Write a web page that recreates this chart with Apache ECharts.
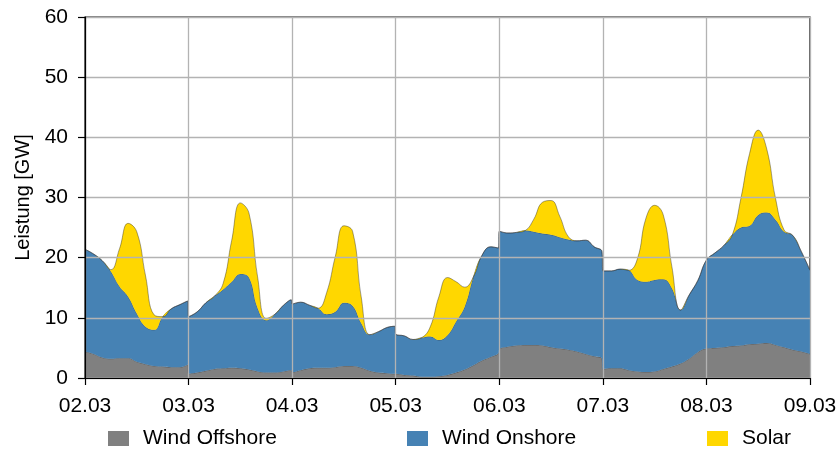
<!DOCTYPE html>
<html>
<head>
<meta charset="utf-8">
<script src="https://cdn.jsdelivr.net/npm/echarts@6/dist/echarts.min.js"></script>
<style>html,body{margin:0;padding:0;background:#fff}#c{width:840px;height:449px}</style>
</head>
<body>
<div id="c"></div>
<script>
// Time in hours since 02.03 00:00
const hours = [0,2,4,6,8,10,12,14,16,18,20,22,23.8,
  24,26,28,30,32,34,36,38,40,42,44,46,47.8,
  48,50,52,54,56,58,60,62,64,66,68,70,71.8,
  72,74,76,78,80,82,84,86,88,90,92,94,95.8,
  96,98,100,102,104,106,108,110,112,114,116,118,119.8,
  120,122,124,126,128,130,132,134,136,138,140,142,144,146,148,150,152,154,156,158,160,162,164,166,168];

const windOffshore = [4.4,4.0,3.4,3.2,3.3,3.3,2.7,2.3,2.0,1.9,1.8,1.8,2.2,
  0.7,0.9,1.2,1.5,1.6,1.7,1.6,1.4,1.1,0.9,0.9,1.1,1.3,
  1.0,1.3,1.6,1.7,1.7,1.8,2.0,2.0,1.7,1.2,0.9,0.8,0.7,
  0.7,0.5,0.4,0.2,0.2,0.3,0.5,0.9,1.4,2.1,2.9,3.5,4.1,
  4.8,5.2,5.4,5.5,5.5,5.4,5.1,4.9,4.7,4.4,4.0,3.6,3.2,
  1.5,1.6,1.6,1.3,1.1,1.0,1.1,1.5,1.9,2.4,3.2,4.3,4.9,5.0,5.1,5.3,5.4,5.6,5.7,5.8,5.5,5.1,4.7,4.4,4.0];

const windOnshore = [17.0,16.6,16.1,14.5,11.9,10.2,8.0,6.2,6.0,8.3,9.7,10.4,10.6,
  9.5,10.1,11.3,12.1,13.1,14.3,15.7,15.3,10.5,8.7,9.7,11.0,11.7,
  11.3,11.3,10.5,9.9,8.9,9.2,10.5,10.0,7.4,6.0,6.8,7.6,7.9,
  6.6,6.5,6.0,6.5,6.7,6.0,6.6,8.5,10.5,14.7,17.5,18.3,17.5,
  19.6,18.9,18.8,19.0,18.8,18.6,18.7,18.5,18.3,18.4,18.9,18.2,17.8,
  16.3,16.2,16.5,16.6,15.2,15.0,15.2,14.9,13.0,8.9,10.6,11.9,14.7,15.8,16.9,18.5,19.6,19.7,21.4,21.7,20.8,19.2,19.0,16.6,13.9];

const solar = [0,0,0,0.3,6.3,12.2,13.6,8.6,2.5,0,0,0,0,
  0,0,0,0,1.0,6.9,11.8,10.7,5.2,0.3,0,0,0,
  0,0,0,0,3.6,9.2,12.8,12.4,4.4,0,0,0,0,
  0,0,0,0,1.6,7.2,9.6,6.6,3.2,0,0,0,0,
  0,0,0,0,2.1,5.2,5.7,3.5,0.5,0,0,0,0,
  0,0,0,0,3.5,10.6,12.4,10.7,3.6,0,0,0,0,0,0,0,4.9,12.0,14.1,10.5,3.6,0.3,0,0,0];

const dayLabels = ['02.03','03.03','04.03','05.03','06.03','07.03','08.03','09.03'];
const yTicks = [0,10,20,30,40,50,60];
const seriesNames = ['Wind Offshore','Wind Onshore','Solar'];
const colors = ['#808080','#4682b4','#ffd700'];

const FONT = '"Liberation Sans", Arial, sans-serif';
const values = [windOffshore, windOnshore, solar];

const chart = echarts.init(document.getElementById('c'), null, {renderer:'canvas'});

// value first so that the stacked dimension is the y value
const series = seriesNames.map((name, i) => ({
  name,
  type: 'line',
  stack: 'total',
  smooth: 0.45,
  symbol: 'none',
  encode: {x: 1, y: 0},
  data: hours.map((h, k) => [values[i][k], h]),
  lineStyle: {width: 0.7, color: 'rgba(40,40,40,0.6)'},
  areaStyle: {color: colors[i], opacity: 1},
  itemStyle: {color: colors[i]},
  z: 2 + i
}));

const legendLefts = [103, 402, 702];
const legends = seriesNames.map((name, i) => ({
  data: [{name, icon: 'rect', itemStyle: {color: colors[i], borderWidth: 0}}],
  left: legendLefts[i],
  top: 423,
  itemWidth: 21,
  itemHeight: 15,
  selectedMode: false,
  textStyle: {fontFamily: FONT, fontSize: 21, color: '#000', padding: [0,0,0,9]}
}));

chart.setOption({
  animation: false,
  backgroundColor: '#fff',
  grid: {left: 85, right: 30, top: 17, bottom: 71, show: true, borderColor: '#000', borderWidth: 1.2, backgroundColor: 'transparent', containLabel: false},
  legend: legends,
  xAxis: {
    type: 'value',
    min: 0, max: 168, interval: 24,
    axisLine: {show: true, onZero: false, lineStyle: {color: '#000', width: 1.2}},
    axisTick: {show: true, inside: false, length: 7, lineStyle: {color: '#000', width: 1.2}},
    axisLabel: {margin: 18, fontFamily: FONT, fontSize: 21, color: '#000',
      formatter: v => dayLabels[Math.round(v / 24)] || ''},
    splitLine: {show: true, lineStyle: {color: '#b3b3b3', width: 1.3}},
    z: 10
  },
  yAxis: {
    type: 'value',
    min: yTicks[0], max: yTicks[yTicks.length - 1], interval: 10,
    name: 'Leistung [GW]',
    nameLocation: 'middle',
    nameGap: 48,
    nameTextStyle: {fontFamily: FONT, fontSize: 20, color: '#000'},
    axisLine: {show: true, lineStyle: {color: '#000', width: 1.2}},
    axisTick: {show: true, inside: false, length: 7, lineStyle: {color: '#000', width: 1.2}},
    axisLabel: {margin: 17, fontFamily: FONT, fontSize: 21, color: '#000'},
    splitLine: {show: true, lineStyle: {color: '#b3b3b3', width: 1.3}},
    z: 10
  },
  series
});
</script>
</body>
</html>
